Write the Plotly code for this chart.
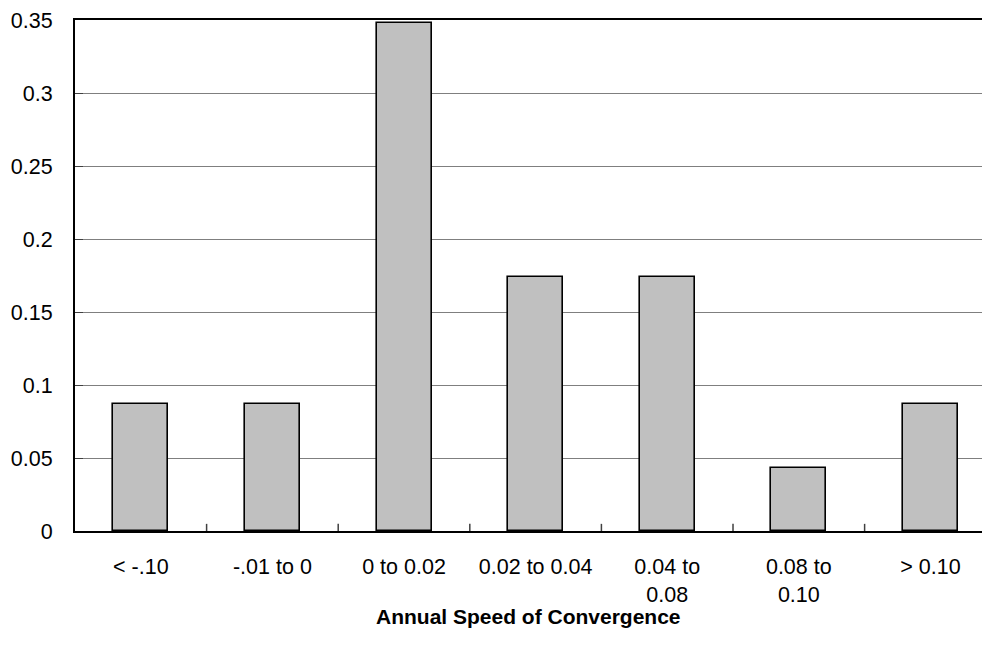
import plotly.graph_objects as go

categories = ["< -.10", "-.01 to 0", "0 to 0.02", "0.02 to 0.04", "0.04 to<br>0.08", "0.08 to<br>0.10", "> 0.10"]
shares = [0.087, 0.087, 0.348, 0.174, 0.174, 0.043, 0.087]
y_ticks = [0, 0.05, 0.1, 0.15, 0.2, 0.25, 0.3, 0.35]
y_tick_labels = ["0", "0.05", "0.1", "0.15", "0.2", "0.25", "0.3", "0.35"]
x_title = "Annual Speed of Convergence"

font_family = "Liberation Sans, Arial, sans-serif"

fig = go.Figure(
    go.Bar(
        x=list(range(len(categories))),
        y=shares,
        width=0.418,
        marker=dict(color="#C0C0C0", line=dict(color="black", width=1.6)),
    )
)

# the page body adds an 8px margin around the figure
fig.update_layout(
    width=974,
    height=637,
    margin=dict(l=67, r=0, t=12, b=114),
    paper_bgcolor="white",
    plot_bgcolor="white",
    showlegend=False,
    font=dict(family=font_family, size=21.5, color="black"),
    bargap=0,
)

fig.update_xaxes(
    type="linear",
    range=[-0.5, 6.392],
    tickmode="array",
    tickvals=list(range(len(categories))),
    ticktext=categories,
    ticks="",
    showgrid=False,
    showline=True,
    linecolor="black",
    linewidth=2,
    mirror=True,
    ticklabelstandoff=15,
    ticklabeloverflow="allow",
    automargin=False,
    zeroline=False,
)

fig.update_yaxes(
    range=[0, 0.35],
    tickmode="array",
    tickvals=y_ticks,
    ticktext=y_tick_labels,
    ticks="inside",
    ticklen=8,
    tickcolor="#404040",
    showgrid=True,
    gridcolor="#7f7f7f",
    gridwidth=1,
    showline=True,
    linecolor="black",
    linewidth=2,
    zeroline=False,
    ticklabelstandoff=16,
    ticklabeloverflow="allow",
    automargin=False,
)

# x-axis title
fig.add_annotation(
    text="<b>" + x_title + "</b>",
    xref="paper", yref="paper", x=0.5, y=-0.1665,
    xanchor="center", yanchor="middle", showarrow=False,
    font=dict(family=font_family, size=21, color="black"),
)

# category boundary tick marks on the x axis (inside, pointing up)
for b in [0.5, 1.5, 2.5, 3.5, 4.5, 5.5]:
    fig.add_shape(type="line", xref="x", yref="y domain", x0=b, x1=b, y0=0, y1=0.014,
                  line=dict(color="#404040", width=1.5))

fig.write_html("out.html")
